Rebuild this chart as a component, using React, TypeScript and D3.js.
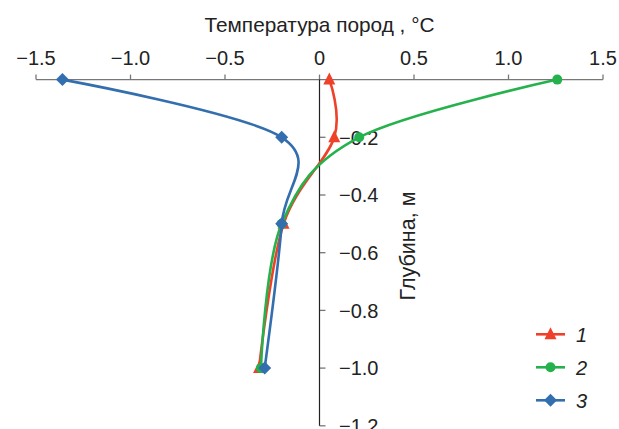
import React from "react";
import * as d3 from "d3";

const W = 619;
const H = 429;

const xTicks = [-1.5, -1.0, -0.5, 0, 0.5, 1.0, 1.5];
const yTicks = [-0.2, -0.4, -0.6, -0.8, -1.0, -1.2];

const depths = [0, -0.2, -0.5, -1.0];
const series1 = [0.052, 0.078, -0.19, -0.32];
const series2 = [1.258, 0.21, -0.2, -0.31];
const series3 = [-1.36, -0.2, -0.2, -0.29];

const seriesNames = ["1", "2", "3"];
const seriesColors = ["#ef4129", "#25b14b", "#336fae"];
const seriesMarkers = ["triangle", "circle", "diamond"];

const FONT = "'Liberation Sans', Arial, Helvetica, sans-serif";

const fmt = (v: number) => {
  if (v === 0) return "0";
  const s = Math.abs(v).toFixed(1);
  return v < 0 ? "\u2212" + s : s;
};

function Marker({ type, x, y, color }: { type: string; x: number; y: number; color: string }) {
  if (type === "triangle") {
    const s = 6;
    return <path d={`M${x},${y - s - 1}L${x + s},${y + s - 1}L${x - s},${y + s - 1}Z`} fill={color} />;
  }
  if (type === "circle") {
    return <circle cx={x} cy={y} r={5} fill={color} />;
  }
  const s = 6.5;
  return <path d={`M${x},${y - s}L${x + s},${y}L${x},${y + s}L${x - s},${y}Z`} fill={color} />;
}

export default function App() {
  const x = d3.scaleLinear().domain([-1.5, 1.5]).range([36, 603]);
  const y = d3.scaleLinear().domain([0, -1.2]).range([79.6, 425.8]);
  const line = d3
    .line<[number, number]>()
    .x((d) => x(d[0]))
    .y((d) => y(d[1]))
    .curve(d3.curveCardinal.tension(0));

  const all = [series1, series2, series3];
  const axisY = y(0);
  const axisX = x(0);

  return (
    <svg
      width={W}
      height={H}
      style={{ position: "absolute", left: 0, top: 0, background: "#fff" }}
      fontFamily={FONT}
    >
      <text x={axisX} y={32} textAnchor="middle" fontSize={20.8} fill="#222">
        Температура пород , °С
      </text>
      {/* x axis */}
      <line x1={x(-1.5)} x2={x(1.5)} y1={axisY} y2={axisY} stroke="#777" strokeWidth={1.3} />
      {xTicks.map((t) => (
        <g key={"xt" + t}>
          <line x1={x(t)} x2={x(t)} y1={axisY} y2={axisY - 5} stroke="#777" strokeWidth={1.3} />
          <text x={x(t)} y={65} textAnchor="middle" fontSize={20} fill="#222">
            {fmt(t)}
          </text>
        </g>
      ))}
      {/* y axis */}
      {yTicks.map((t) => (
        <g key={"yt" + t}>
          <line x1={axisX} x2={axisX + 6} y1={y(t)} y2={y(t)} stroke="#777" strokeWidth={1.3} />
          <text x={339} y={y(t)} dy="0.36em" textAnchor="start" fontSize={20} fill="#222">
            {fmt(t)}
          </text>
        </g>
      ))}
      <line x1={axisX} x2={axisX} y1={axisY} y2={y(-1.2)} stroke="#222" strokeWidth={1.2} />
      <text
        transform={`translate(407,246) rotate(-90)`}
        textAnchor="middle"
        dy="0.36em"
        fontSize={21.5}
        fill="#222"
      >
        Глубина, м
      </text>
      {/* series */}
      {all.map((s, i) => {
        const pts: [number, number][] = s.map((v, j) => [v, depths[j]]);
        return (
          <g key={"s" + i}>
            <path d={line(pts) || ""} fill="none" stroke={seriesColors[i]} strokeWidth={2.6} />
            {pts.map((p, j) => (
              <Marker key={j} type={seriesMarkers[i]} x={x(p[0])} y={y(p[1])} color={seriesColors[i]} />
            ))}
          </g>
        );
      })}
      {/* legend */}
      {seriesNames.map((n, i) => {
        const ly = 334.3 + i * 33;
        return (
          <g key={"lg" + i}>
            <line x1={536} x2={565} y1={ly} y2={ly} stroke={seriesColors[i]} strokeWidth={2.6} />
            <Marker type={seriesMarkers[i]} x={550.5} y={ly} color={seriesColors[i]} />
            <text x={576} y={ly} dy="0.36em" fontSize={20} fontStyle="italic" fill="#222">
              {n}
            </text>
          </g>
        );
      })}
    </svg>
  );
}
